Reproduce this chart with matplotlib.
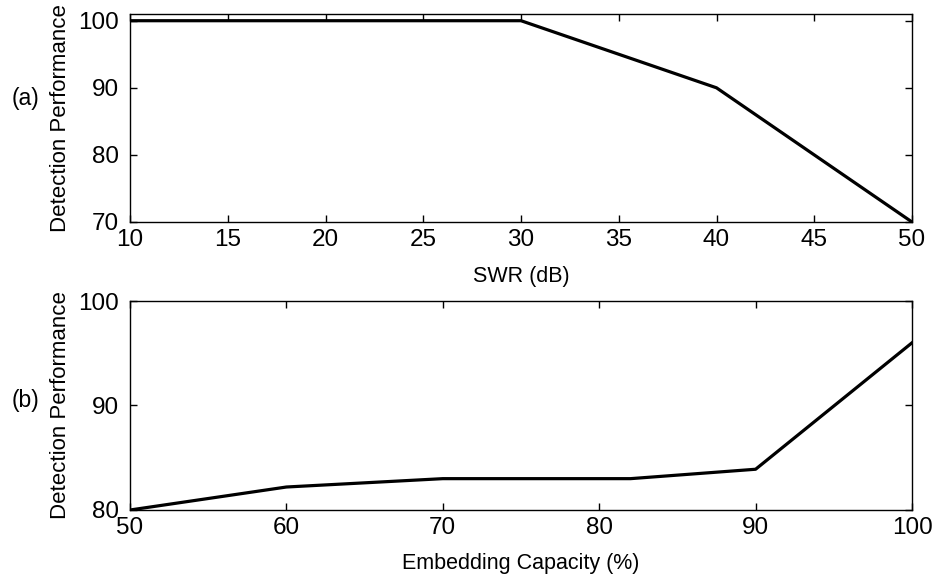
import matplotlib
matplotlib.use("Agg")
import matplotlib.pyplot as plt

plt.rcParams['font.family'] = ['Liberation Sans', 'DejaVu Sans']

swr = [10, 20, 30, 40, 50]
perf_a = [100, 100, 100, 90, 70]
xticks_a = [10, 15, 20, 25, 30, 35, 40, 45, 50]
yticks_a = [70, 80, 90, 100]

capacity = [50, 60, 70, 82, 90, 100]
perf_b = [80, 82.2, 83, 83, 83.9, 96]
xticks_b = [50, 60, 70, 80, 90, 100]
yticks_b = [80, 90, 100]

W, H = 935, 579
fig = plt.figure(figsize=(W/100, H/100), dpi=100)

def box(l, t, r, b):
    return [l/W, 1-b/H, (r-l)/W, (b-t)/H]

ax1 = fig.add_axes(box(130, 14, 912, 222))
ax2 = fig.add_axes(box(130, 301, 912, 510))

for ax in (ax1, ax2):
    ax.tick_params(direction='in', length=5, width=1, labelsize=17.5,
                   top=True, right=True, colors='black')
    ax.tick_params(axis='x', pad=4.7)
    ax.tick_params(axis='y', pad=8)
    for s in ax.spines.values():
        s.set_linewidth(1)

ax1.plot(swr, perf_a, color='black', lw=2.3)
ax1.set_xlim(10, 50)
ax1.set_ylim(70, 101)
ax1.set_xticks(xticks_a)
ax1.set_yticks(yticks_a)
ax1.set_xlabel('SWR (dB)', fontsize=15.5)
ax1.set_ylabel('Detection Performance', fontsize=16)
ax1.xaxis.set_label_coords(0.5, -44/208)
ax1.yaxis.set_label_coords(-59.5/782, 0.5)

ax2.plot(capacity, perf_b, color='black', lw=2.3)
ax2.set_xlim(50, 100)
ax2.set_ylim(80, 100)
ax2.set_xticks(xticks_b)
ax2.set_yticks(yticks_b)
ax2.set_xlabel('Embedding Capacity (%)', fontsize=15.5)
ax2.set_ylabel('Detection Performance', fontsize=16)
ax2.xaxis.set_label_coords(0.5, -43/209)
ax2.yaxis.set_label_coords(-59.5/782, 0.5)

fig.text(12/W, 1-98/H, '(a)', fontsize=16.5, va='center', ha='left')
fig.text(12/W, 1-400/H, '(b)', fontsize=16.5, va='center', ha='left')

fig.savefig('out.png', dpi=100)
